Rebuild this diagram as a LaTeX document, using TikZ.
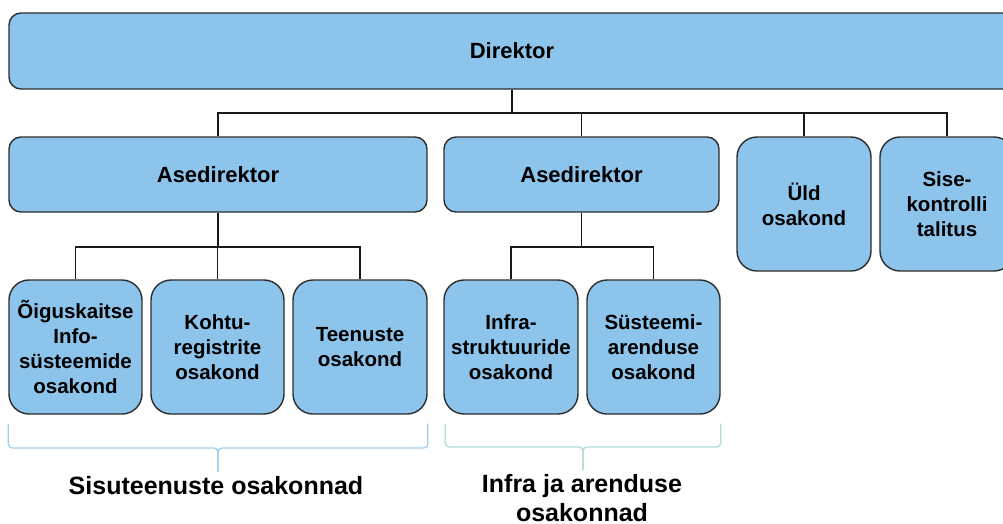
\documentclass[tikz,border=0pt]{standalone}
\usepackage{fontspec}
\setmainfont{Liberation Sans}
\usetikzlibrary{calc}
\definecolor{boxfill}{RGB}{141,196,236}
\definecolor{boxline}{RGB}{45,45,45}
\definecolor{braceA}{RGB}{160,205,236}
\definecolor{braceB}{RGB}{178,218,222}
\tikzset{
  unit/.style={draw=boxline, line width=1.4pt, fill=boxfill, rounded corners=#1,
    inner sep=0pt, align=center, font=\bfseries\fontsize{20.5}{25}\selectfont},
  unit/.default=20pt,
  bigunit/.style={unit=12pt, font=\bfseries\fontsize{22}{26}\selectfont},
  conn/.style={draw=black!90, line width=1.8pt},
  bracepath/.style={line width=1.3pt, rounded corners=4pt},
  grouplabel/.style={font=\bfseries\fontsize{25}{29}\selectfont, align=center, inner sep=0pt}
}
\begin{document}
\begin{tikzpicture}[x=1pt, y=-1pt]
\useasboundingbox (0,0) rectangle (1003,523);
\fill[white] (0,0) rectangle (1003,523);
\clip (0,0) rectangle (1003,523);

% top
\node[bigunit, minimum width=1006pt, minimum height=76pt] (dir) at (512,51) {Direktor};
% level 2
\node[bigunit, minimum width=418pt, minimum height=75pt] (a1) at (218,174.5) {Asedirektor};
\node[bigunit, minimum width=275pt, minimum height=75pt] (a2) at (581.5,174.5) {Asedirektor};
\node[unit, minimum width=134pt, minimum height=134pt] (uld) at (804,204) {Üld\\osakond};
\node[unit, minimum width=134pt, minimum height=134pt] (sise) at (947,204) {Sise-\\kontrolli\\talitus};
% level 3
\node[unit, minimum width=133pt, minimum height=134pt] (b1) at (75.5,347) {Õiguskaitse\\Info-\\süsteemide\\osakond};
\node[unit, minimum width=133pt, minimum height=134pt] (b2) at (217.5,347) {Kohtu-\\registrite\\osakond};
\node[unit, minimum width=134pt, minimum height=134pt] (b3) at (360,347) {Teenuste\\osakond};
\node[unit, minimum width=134pt, minimum height=134pt] (b4) at (511,347) {Infra-\\struktuuride\\osakond};
\node[unit, minimum width=133pt, minimum height=134pt] (b5) at (653.5,347) {Süsteemi-\\arenduse\\osakond};

% connectors
\draw[conn] (dir.south) -- (dir.south |- 0,113);
\draw[conn] (a1.north) -- (a1.north |- 0,113) -| (sise.north);
\draw[conn] (a2.north) -- (a2.north |- 0,113);
\draw[conn] (uld.north) -- (uld.north |- 0,113);

\draw[conn] (a1.south) -- (a1.south |- 0,247);
\draw[conn] (b1.north) -- (b1.north |- 0,247) -| (b3.north);
\draw[conn] (b2.north) -- (b2.north |- 0,247);

\draw[conn] (a2.south) -- (a2.south |- 0,247);
\draw[conn] (b4.north) -- (b4.north |- 0,247) -| (b5.north);

% braces
\coordinate (tipA) at (218,472);
\draw[bracepath, draw=braceA] ($(b1.south west)+(0,9)$) |- (218,448) -- (tipA);
\draw[bracepath, draw=braceA] ($(b3.south east)+(0,9)$) |- (218,448) -- (tipA);
\coordinate (tipB) at (583,470);
\draw[bracepath, draw=braceB] ($(b4.south west)+(2,9)$) |- (583,447) -- (tipB);
\draw[bracepath, draw=braceB] ($(b5.south east)+(0,9)$) |- (583,447) -- (tipB);

% labels
\node[grouplabel, anchor=base] (lab1) at (216,494) {Sisuteenuste osakonnad};
\node[grouplabel, anchor=north] (lab2) at (582,474) {Infra ja arenduse\\osakonnad};
\end{tikzpicture}
\end{document}
